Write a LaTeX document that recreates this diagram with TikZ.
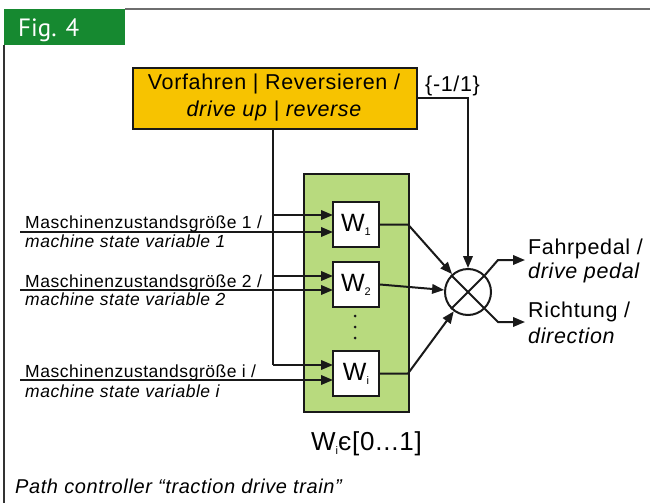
\documentclass[tikz,border=0pt]{standalone}
\usepackage{fontspec}
\setmainfont{Liberation Sans}
\newfontfamily\tabfont{PT Sans}
\usetikzlibrary{arrows.meta}
\definecolor{tabgreen}{RGB}{22,137,48}
\definecolor{boxorange}{RGB}{247,195,0}
\definecolor{boxgreen}{RGB}{184,218,126}
\definecolor{framegray}{RGB}{110,110,110}
\newcommand{\sz}[1]{\fontsize{#1}{#1}\selectfont\addfontfeatures{LetterSpace=3}}
\begin{document}
\begin{tikzpicture}[x=1pt,y=-1pt,
  line/.style={line width=2pt,draw=black!90},
  arr/.style={line,-{Triangle[length=12pt,width=9.5pt]}},
  lbl/.style={inner sep=0pt,anchor=base west},
  wbox/.style={draw=black!90,line width=2pt,fill=white,minimum width=46pt,minimum height=45pt,inner sep=0pt,font=\sz{25}},
  dot/.style={circle,fill=black!90,inner sep=0pt,minimum size=3pt}]
\useasboundingbox (0,0) rectangle (650,503);
% frame
\draw[framegray,line width=1.5pt] (125,9) -- (650,9);
\draw[black!80,line width=1.5pt] (4,45) -- (4,503);
\node[fill=tabgreen,minimum width=121pt,minimum height=36pt,inner sep=0pt,anchor=north west] (tab) at (4,9) {};
\node[lbl,text=white,font=\tabfont\fontsize{25}{25}\selectfont] (figlbl) at (18,36.5) {Fig. 4};
% orange box
\node[draw=black!90,line width=2pt,fill=boxorange,minimum width=284pt,minimum height=61pt,inner sep=0pt,anchor=north west] (ob) at (132,67) {};
\node[lbl,anchor=base,font=\sz{21.5}] (ot1) at (274,89) {Vorfahren | Reversieren /};
\node[lbl,anchor=base,font=\sz{21.5}\itshape] (ot2) at (274,116) {drive up | reverse};
\node[lbl,font=\sz{21.5}] (m11) at (425,92) {\{-1/1\}};
% green box
\node[draw=black!90,line width=2pt,fill=boxgreen,minimum width=105pt,minimum height=238pt,inner sep=0pt,anchor=north west] (gb) at (303,173) {};
\node[wbox] (w1) at (356,224.5) {W\raisebox{-4pt}{\sz{11}1}};
\node[wbox] (w2) at (356,284.5) {W\raisebox{-4pt}{\sz{11}2}};
\node[wbox] (wi) at (356,373.5) {W\raisebox{-4pt}{\sz{11}i}};
\node[dot] (d1) at (355,316) {};
\node[dot] (d2) at (355,327) {};
\node[dot] (d3) at (355,338) {};
% summing circle
\node[circle,draw=black!90,line width=2pt,minimum size=46pt,inner sep=0pt] (c) at (468,292) {};
\coordinate (ob-s) at (273,128);
\coordinate (b1) at (273,215);
\coordinate (b2) at (273,276);
\coordinate (bi) at (273,365);
\coordinate (in1) at (20,232);
\coordinate (in2) at (20,290);
\coordinate (ini) at (20,380);
\draw[line] (ob-s) -- (bi);
\draw[arr] (b1) -- (333,215);
\draw[arr] (b2) -- (333,276);
\draw[arr] (bi) -- (333,365);
\draw[arr] (in1) -- (333,232);
\draw[arr] (in2) -- (333,290);
\draw[arr] (ini) -- (333,380);
% outputs of W
\coordinate (k1) at (408,224.5);
\coordinate (ki) at (408,373.5);
\draw[arr] (w1.east) -- (k1) -- (c);
\draw[arr] (w2.east) -- (c);
\draw[arr] (wi.east) -- (ki) -- (c);
\draw[arr] (ob.east |- 0,98) -- (468,98) -- (c.north);
% cross
\coordinate (o1) at (498,260);
\coordinate (o2) at (498,322);
\coordinate (e1) at (525,260);
\coordinate (e2) at (525,322);
\draw[line] (c.225) -- (c.45);
\draw[line] (c.135) -- (c.315);
\draw[arr] (c.45) -- (o1) -- (e1);
\draw[arr] (c.315) -- (o2) -- (e2);
% labels
\node[lbl,font=\sz{21.5}] (fp1) at (528,254) {Fahrpedal /};
\node[lbl,font=\sz{21.5}\itshape] (fp2) at (528,278) {drive pedal};
\node[lbl,font=\sz{21.5}] (ri1) at (528,317) {Richtung /};
\node[lbl,font=\sz{21.5}\itshape] (ri2) at (528,343) {direction};
\node[lbl,font=\sz{17.5}] (l11) at (25,228) {Maschinenzustandsgröße 1 /};
\node[lbl,font=\sz{17.5}\itshape] (l12) at (25,247) {machine state variable 1};
\node[lbl,font=\sz{17.5}] (l21) at (25,287) {Maschinenzustandsgröße 2 /};
\node[lbl,font=\sz{17.5}\itshape] (l22) at (25,305) {machine state variable 2};
\node[lbl,font=\sz{17.5}] (li1) at (25,377) {Maschinenzustandsgröße i /};
\node[lbl,font=\sz{17.5}\itshape] (li2) at (25,397) {machine state variable i};
\node[lbl,font=\sz{26}] (wr) at (311,450) {W\raisebox{-4pt}{\sz{11}i}є[0...1]};
\node[lbl,font=\sz{20}\itshape] (cap) at (15,493) {Path controller “traction drive train”};
\end{tikzpicture}
\end{document}
